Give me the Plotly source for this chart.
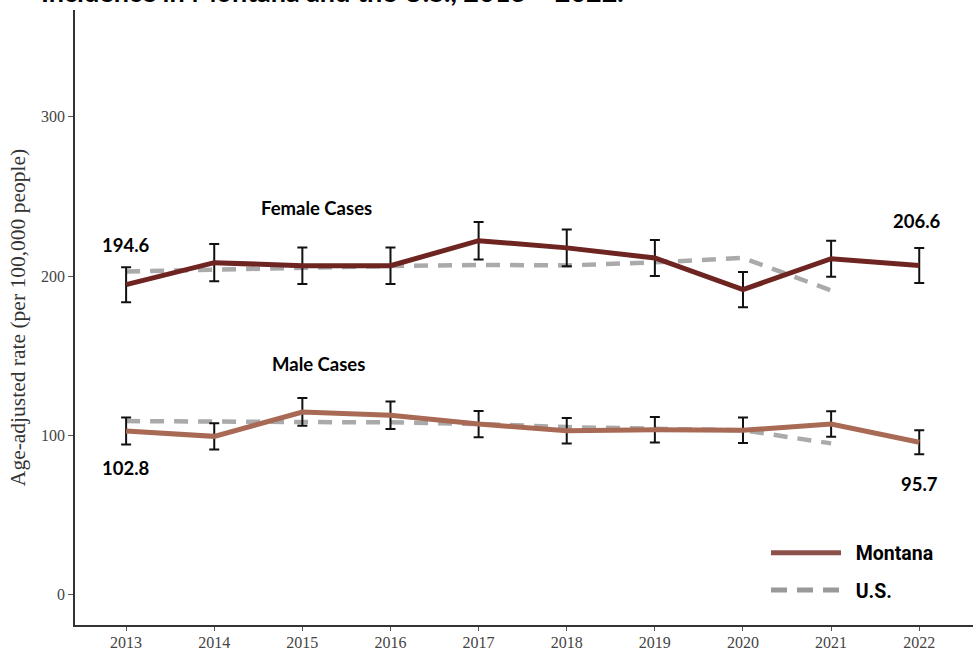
import plotly.graph_objects as go

years = [2013, 2014, 2015, 2016, 2017, 2018, 2019, 2020, 2021, 2022]

# Montana age-adjusted incidence and 95% CI half-widths
mt_female = [194.6, 208.4, 206.5, 206.5, 222.2, 217.7, 211.4, 191.5, 210.9, 206.6]
mt_female_ci = [11.0, 11.7, 11.5, 11.5, 11.8, 11.5, 11.3, 11.0, 11.3, 11.0]
mt_male = [102.8, 99.4, 114.7, 112.6, 107.1, 102.9, 103.6, 103.2, 107.1, 95.7]
mt_male_ci = [8.5, 8.2, 8.7, 8.6, 8.2, 8.0, 8.0, 8.0, 8.0, 7.5]

# U.S. rates (available through 2021)
us_years = [2013, 2014, 2015, 2016, 2017, 2018, 2019, 2020, 2021]
us_female = [202.8, 204.0, 205.7, 206.3, 207.0, 206.7, 208.6, 211.4, 191.0]
us_male = [109.0, 109.0, 108.4, 108.2, 107.2, 105.2, 104.0, 103.2, 95.0]

y_ticks = [0, 100, 200, 300]

FEMALE_COLOR = "#6e2420"
MALE_COLOR = "#a86a55"
LEGEND_MT_COLOR = "#8c524a"
US_COLOR = "#aaaaaa"
LABEL_FONT = dict(family="Lato", size=18.5, color="#000000")
NBSP = "\u00a0"

fig = go.Figure()

for ys in (us_female, us_male):
    fig.add_trace(go.Scatter(
        x=us_years, y=ys, mode="lines", showlegend=False,
        line=dict(color=US_COLOR, width=4.5, dash="14px,10px"),
        hoverinfo="skip"))

for ys, ci, col in ((mt_female, mt_female_ci, FEMALE_COLOR),
                    (mt_male, mt_male_ci, MALE_COLOR)):
    fig.add_trace(go.Scatter(
        x=years, y=ys, mode="lines", showlegend=False,
        line=dict(color=col, width=5),
        error_y=dict(type="data", array=ci, visible=True,
                     color="#111111", thickness=2, width=5)))

# legend entries
fig.add_trace(go.Scatter(x=[None], y=[None], mode="lines",
                         name=NBSP * 2 + "<b>Montana</b>", legendgroup="mt",
                         line=dict(color=LEGEND_MT_COLOR, width=4)))
fig.add_trace(go.Scatter(x=[None], y=[None], mode="lines",
                         name=NBSP * 2 + "<b>U.S.</b>", legendgroup="us",
                         line=dict(color="#999999", width=4, dash="16px,10px")))

annotations = [
    dict(x=2015.16, y=243, text="<b>Female Cases</b>"),
    dict(x=2015.18, y=145, text="<b>Male Cases</b>"),
    dict(x=years[0], y=mt_female[0] + 25, text=f"<b>{mt_female[0]:.1f}</b>"),
    dict(x=years[-1] - 0.02, y=mt_female[-1] + 28, text=f"<b>{mt_female[-1]:.1f}</b>"),
    dict(x=years[0], y=mt_male[0] - 23, text=f"<b>{mt_male[0]:.1f}</b>"),
    dict(x=years[-1], y=mt_male[-1] - 26, text=f"<b>{mt_male[-1]:.1f}</b>"),
]
for a in annotations:
    a.update(xref="x", yref="y", showarrow=False, font=LABEL_FONT)

annotations.append(dict(
    xref="paper", yref="paper", x=-0.04, y=1.0002, xanchor="left", yanchor="bottom",
    text="<b>Incidence in Montana and the U.S., 2013 \u2013 2022.</b>",
    showarrow=False, font=dict(family="Lato", size=27, color="#000000")))

fig.update_layout(
    width=973, height=652,
    margin=dict(l=75, r=0, t=10, b=27),
    paper_bgcolor="white", plot_bgcolor="white",
    annotations=annotations,
    showlegend=True,
    legend=dict(x=0.7695, y=0.087, xanchor="left", yanchor="middle",
                bgcolor="rgba(0,0,0,0)", itemwidth=70,
                font=dict(family="Roboto", size=19.5, color="#000000"),
                tracegroupgap=9, itemsizing="constant"),
    xaxis=dict(range=[2012.42, 2022.61], tickvals=years, ticktext=[str(y) for y in years],
               showgrid=False, zeroline=False, showline=True, linecolor="#333333",
               linewidth=1.5, ticks="outside", ticklen=4, tickcolor="#555555",
               automargin=False, ticklabelstandoff=-2,
               tickfont=dict(family="Liberation Serif", size=16, color="#444444")),
    yaxis=dict(range=[-19, 367], tickvals=y_ticks, showgrid=False, zeroline=False,
               showline=True, linecolor="#333333", linewidth=1.5, ticks="outside",
               ticklen=5, tickcolor="#555555", automargin=False,
               tickfont=dict(family="Liberation Serif", size=16, color="#444444"),
               title=dict(text="Age-adjusted rate (per 100,000 people)", standoff=10,
                          font=dict(family="Liberation Serif", size=21.5, color="#333333"))),
)

fig.write_html("out.html")
